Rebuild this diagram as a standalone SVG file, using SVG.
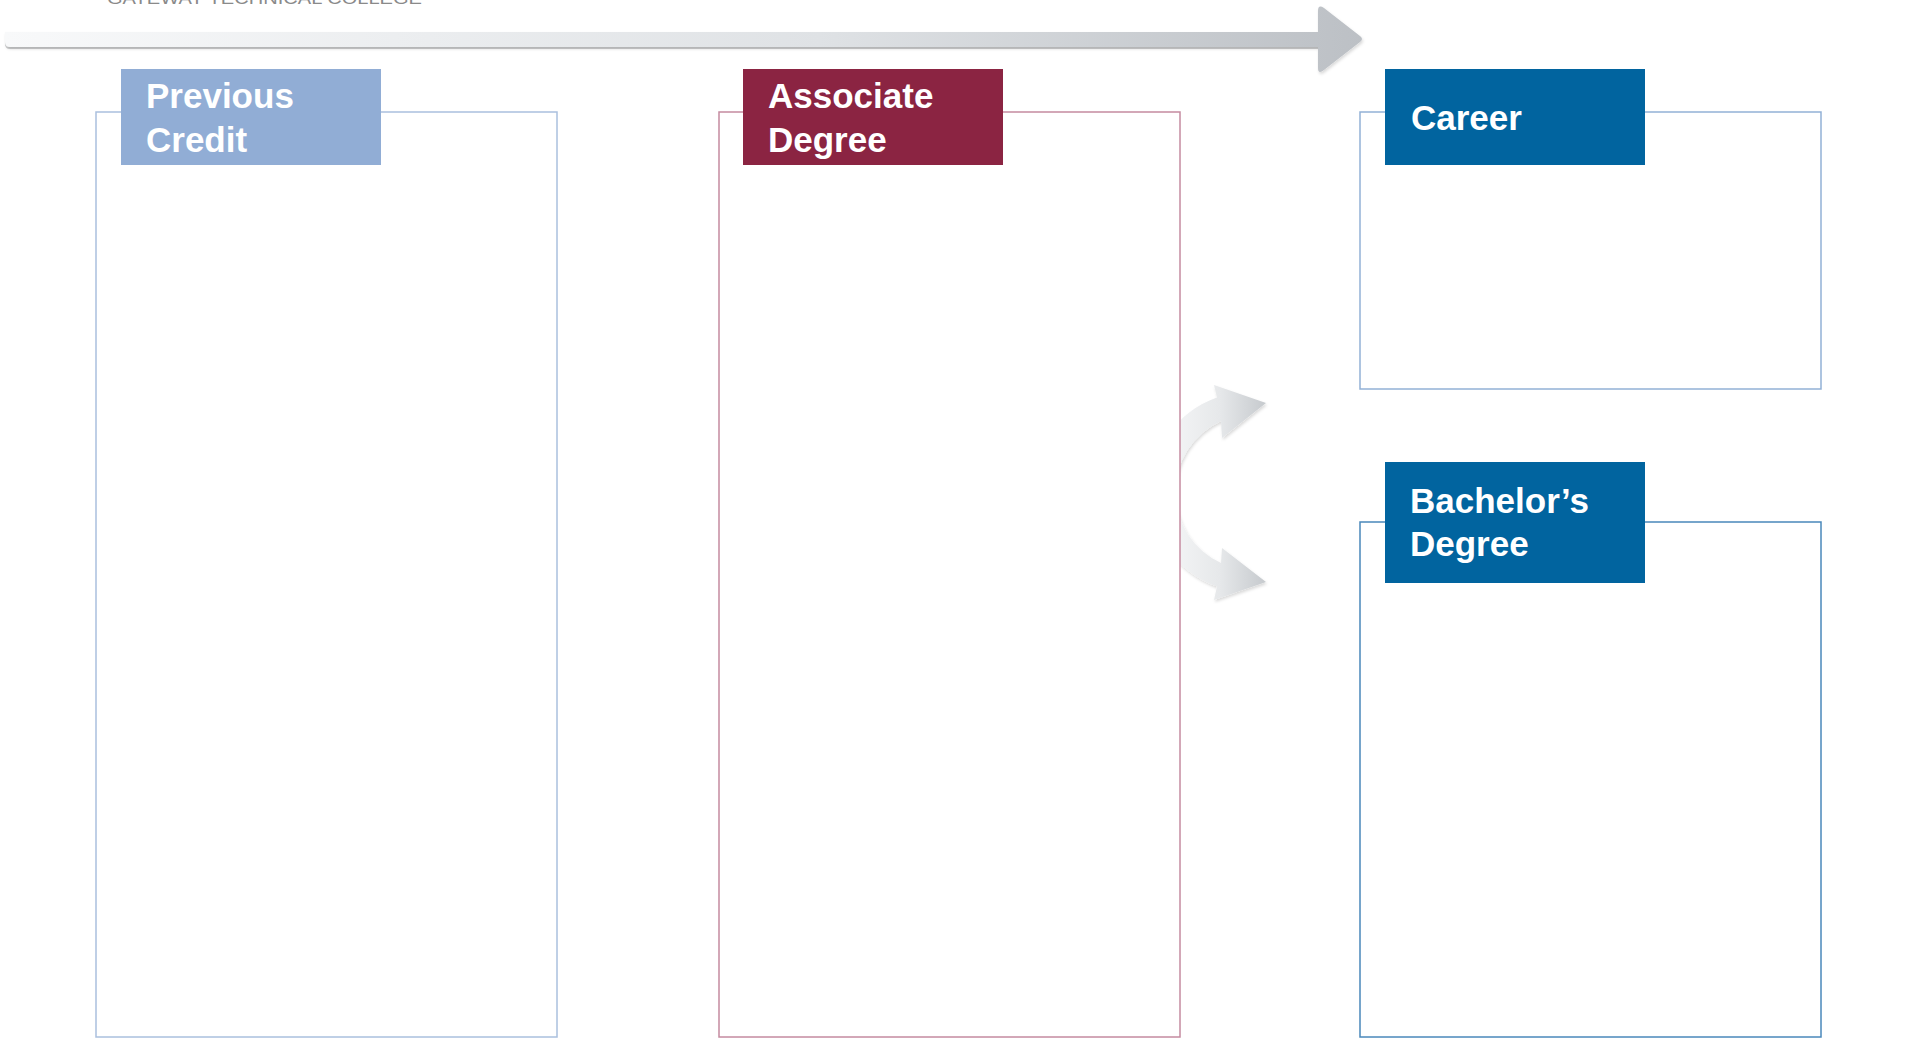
<svg xmlns="http://www.w3.org/2000/svg" width="1921" height="1038" viewBox="0 0 1921 1038">
  <defs>
    <linearGradient id="shaftGrad" x1="0" y1="0" x2="1" y2="0">
      <stop offset="0" stop-color="#f8f9fa"/>
      <stop offset="0.6" stop-color="#dfe2e5"/>
      <stop offset="1" stop-color="#bcc0c5"/>
    </linearGradient>
    <linearGradient id="curveGrad" x1="1170" y1="0" x2="1270" y2="0" gradientUnits="userSpaceOnUse">
      <stop offset="0" stop-color="#f4f5f6"/>
      <stop offset="0.5" stop-color="#e6e8ea"/>
      <stop offset="1" stop-color="#c3c7cb"/>
    </linearGradient>
    <filter id="soft" x="-10%" y="-10%" width="130%" height="130%">
      <feDropShadow dx="1" dy="2" stdDeviation="1.5" flood-color="#000" flood-opacity="0.15"/>
    </filter>
  </defs>
  <style>
    .box { fill: #ffffff; stroke-width: 1.5; }
    .hdr-text { font-family: "Liberation Sans", Arial, sans-serif; font-weight: bold; font-size: 35px; fill: #ffffff; }
    .brand { font-family: "Liberation Sans", Arial, sans-serif; font-size: 17px; fill: #8a8a8a; }
  </style>
  <rect width="1921" height="1038" fill="#ffffff"/>

  <text class="brand" x="107" y="4" textLength="315" lengthAdjust="spacingAndGlyphs">GATEWAY TECHNICAL COLLEGE</text>

  <g id="connectors">
    <!-- timeline arrow -->
    <path d="M5 34 L1320 34 L1320 49 L10 49 Q5 49 5 44 Z" fill="#cfd0d1"/>
    <path d="M5 32 L1318 32 L1318 11 Q1318 4 1324 8 L1360 36 Q1364 39 1360 42 L1324 70 Q1318 75 1318 68 L1318 47 L10 47 Q5 47 5 42 Z" fill="url(#shaftGrad)" filter="url(#soft)"/>
    <!-- curved double arrow -->
    <path d="M1217 397.6 L1214 385 L1266 403 L1222 438 L1221 421 A78 78 0 0 0 1221 563 L1222 548 L1266 582 L1214 600 L1217 586.4 A100 100 0 0 1 1217 397.6 Z" fill="url(#curveGrad)" stroke-linejoin="round" filter="url(#soft)"/>
  </g>

  <g id="previous-credit">
    <rect class="box" x="96" y="112" width="461" height="925" stroke="#aac0de"/>
    <rect x="121" y="69" width="260" height="96" fill="#91add5"/>
    <text class="hdr-text" x="146" y="108" font-size="36">Previous</text>
    <text class="hdr-text" x="146" y="152" font-size="36">Credit</text>
  </g>

  <g id="associate-degree">
    <rect class="box" x="719" y="112" width="461" height="925" stroke="#c58ba0"/>
    <rect x="743" y="69" width="260" height="96" fill="#8b2442"/>
    <text class="hdr-text" x="768" y="108" font-size="36">Associate</text>
    <text class="hdr-text" x="768" y="152" font-size="36">Degree</text>
  </g>

  <g id="career">
    <rect class="box" x="1360" y="112" width="461" height="277" stroke="#92b1d6"/>
    <rect x="1385" y="69" width="260" height="96" fill="#01649f"/>
    <text class="hdr-text" x="1411" y="130">Career</text>
  </g>

  <g id="bachelors-degree">
    <rect class="box" x="1360" y="522" width="461" height="515" stroke="#4a88bb"/>
    <rect x="1385" y="462" width="260" height="121" fill="#01649f"/>
    <text class="hdr-text" x="1410" y="513">Bachelor’s</text>
    <text class="hdr-text" x="1410" y="556">Degree</text>
  </g>
</svg>
